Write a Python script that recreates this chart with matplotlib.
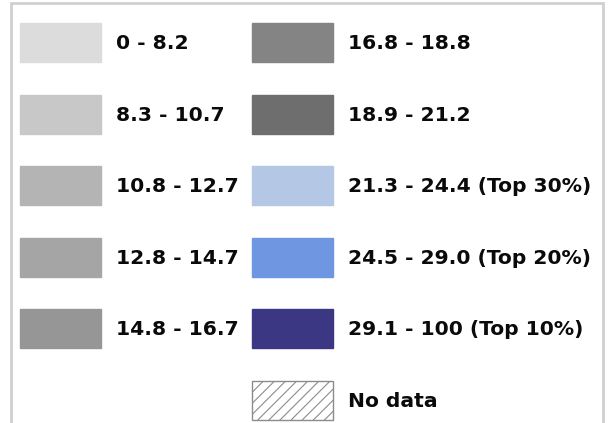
import matplotlib
matplotlib.use("Agg")
import matplotlib.pyplot as plt
from matplotlib.patches import Rectangle

# Legend classes
labels = ["0 - 8.2", "8.3 - 10.7", "10.8 - 12.7", "12.8 - 14.7", "14.8 - 16.7",
          "16.8 - 18.8", "18.9 - 21.2", "21.3 - 24.4 (Top 30%)",
          "24.5 - 29.0 (Top 20%)", "29.1 - 100 (Top 10%)", "No data"]
colors = ["#dcdcdc", "#c8c8c8", "#b4b4b4", "#a5a5a5", "#969696",
          "#848484", "#6e6e6e", "#b4c8e6", "#6e96e1", "#3c3782", "white"]
columns = [0, 0, 0, 0, 0, 1, 1, 1, 1, 1, 1]
rows = [0, 1, 2, 3, 4, 0, 1, 2, 3, 4, 5]

plt.rcParams["hatch.color"] = "#8c8c8c"
plt.rcParams["hatch.linewidth"] = 0.8

W, H = 610, 423
fig = plt.figure(figsize=(W / 100, H / 100), dpi=100)
ax = fig.add_axes([0, 0, 1, 1])
ax.set_xlim(0, W)
ax.set_ylim(H, 0)
ax.axis("off")

# frame (open at bottom)
ax.plot([11, 11, 603, 603], [H + 5, 3, 3, H + 5], color="#d0d0d0", lw=2, solid_joinstyle="miter")

col_x = [20, 252]
text_x = [116, 348]
sw_w, sw_h = 81, 39
row_y0, row_dy = 23, 71.6

for lab, c, ci, ri in zip(labels, colors, columns, rows):
    x = col_x[ci]
    y = row_y0 + ri * row_dy
    if lab == "No data":
        ax.add_patch(Rectangle((x, y), sw_w, sw_h, facecolor="white", edgecolor="#8c8c8c",
                               hatch="///", lw=1.0))
    else:
        ax.add_patch(Rectangle((x, y), sw_w, sw_h, facecolor=c, edgecolor=c, lw=1.0))
    ax.text(text_x[ci], y + sw_h / 2 + 1, lab, fontsize=14.6, fontweight="bold",
            family="DejaVu Sans", color="#0a0a0a", va="center", ha="left")

fig.savefig("out.png", dpi=100)
